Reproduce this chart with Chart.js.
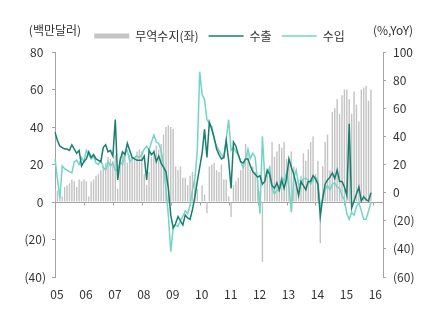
<!DOCTYPE html>
<html>
<head>
<meta charset="utf-8">
<script src="https://cdn.jsdelivr.net/npm/chart.js@4/dist/chart.umd.min.js"></script>
<style>
  body { margin: 0; background: #fff; }
  #wrap { width: 439px; height: 325px; position: relative; }
</style>
</head>
<body>
<div id="wrap"><canvas id="trade-chart"></canvas></div>
<script>
// monthly categories 2005-01 .. 2016-05 (axis runs a little past the data)
const months = [];
for (let yr = 2005; yr <= 2016; yr++) {
  for (let m = 1; m <= 12; m++) {
    if (months.length < 137) months.push(`${yr}-${String(m).padStart(2, "0")}`);
  }
}
const yearLabels = ["05", "06", "07", "08", "09", "10", "11", "12", "13", "14", "15", "16"];

// 무역수지 (left axis, 백만달러)
const balance = [
  7, 6, 5, 3, 8, 9, 10, 12, 11, 8, 12, 11,
  12, 11, 3, 11, 12, 14, 15, 17, 19, 21, 24, 23,
  22, 25, 7, 24, 26, 27, 21, 25, 24, 24, 27, 28,
  27, 15, 9, 16, 24, 28, 30, 28, 31, 36, 40, 41,
  40, 39, 19, 17, 19, 13, 13, 9, 14, 16, 11, 7,
  0, 9, 4, -6, 19, 20, 21, 17, 16, 20, 12, 12,
  3, -8, 9, 11, 13, 17, 19, 31, 26, 17, 19, 16,
  12, 6, -32, 12, 16, 19, 32, 24, 27, 31, 29, 32,
  23, 20, 27, 19, 11, 12, 14, 26, 22, 28, 32, 35,
  15, 22, -22, 19, 32, 36, 17, 48, 50, 55, 47, 57,
  60, 60, 55, 47, 59, 52, 43, 60, 61, 62, 54, 60,
];

// 수출 (right axis, % YoY)
const exportsYoY = [
  43, 37, 33, 32, 31, 31, 30, 34, 31, 28, 30, 19,
  22, 24, 29, 25, 27, 24, 23, 22, 32, 34, 29, 30,
  26, 52, 9, 23, 29, 27, 35, 30, 25, 24, 23, 23,
  23, 26, 9, 30, 27, 29, 22, 26, 21, 18, 15, 3,
  -16, -25, -22, -17, -20, -23, -16, -18, -19, -12, -3, 8,
  18, 28, 45, 25, 50, 45, 39, 31, 27, 24, 25, 37,
  23, 3, 36, 33, 27, 22, 21, 24, 24, 19, 15, 13,
  11, 12, 6, 8, 16, 13, 5, 3, 7, 2, 9, 3,
  10, 24, 18, 13, 6, -2, 8, 5, 2, 8, 8, 12,
  10, 6, -17, -4, 6, 9, 11, 14, 10, 16, 8, 8,
  4, -2, 49, -11, -6, -1, 4, -6, -3, -5, -6, 0,
];

// 수입 (right axis, % YoY)
const importsYoY = [
  24, 10, -4, 19, 17, 16, 15, 14, 22, 23, 20, 25,
  22, 30, 27, 24, 26, 21, 20, 23, 18, 16, 22, 19,
  21, 16, 16, 22, 20, 28, 30, 22, 24, 25, 26, 25,
  27, 31, 33, 30, 36, 41, 36, 35, 30, 20, 2, -16,
  -42, -25, -23, -24, -20, -17, -13, -15, -9, 2, 10, 30,
  86, 70, 66, 52, 49, 47, 38, 33, 30, 27, 25, 38,
  52, 30, 32, 29, 27, 22, 18, 24, 31, 24, 28, 25,
  8, -15, 40, 10, 14, 18, 3, -1, 2, 1, 11, 8,
  14, 4, -14, 11, 16, 6, 6, 10, 10, 9, 6, 9,
  11, 8, -10, -4, 2, 5, 2, 6, 7, 4, 3, -2,
  -5, -15, -19, -14, -16, -10, -7, -13, -19, -19, -13, -7,
];

const FONT = "'Noto Sans CJK KR', 'Noto Sans', sans-serif";
const TEXT = "#333333";
const AXIS = "#a3a3a3";

Chart.defaults.font.family = FONT;
Chart.defaults.font.size = 12;
Chart.defaults.color = TEXT;

const paren = (v) => (v < 0 ? `(${-v})` : `${v} `);

// zero line of the left axis with year ticks
const zeroAxis = {
  id: "zeroAxis",
  beforeDatasetsDraw(chart) {
    const { ctx, chartArea, scales } = chart;
    const y0 = Math.round(scales.y.getPixelForValue(0)) + 0.5;
    ctx.save();
    ctx.strokeStyle = AXIS;
    ctx.lineWidth = 1;
    ctx.beginPath();
    ctx.moveTo(chartArea.left, y0);
    ctx.lineTo(chartArea.right, y0);
    months.forEach((m, i) => {
      if (i > 0 && i % 12 === 0) {
        const px = Math.round(scales.x.getPixelForValue(i)) + 0.5;
        ctx.moveTo(px, y0);
        ctx.lineTo(px, y0 + 3);
      }
    });
    ctx.stroke();
    ctx.restore();
  },
};

// unit captions above both axes
const unitLabels = {
  id: "unitLabels",
  afterDraw(chart) {
    const { ctx, chartArea, scales } = chart;
    const ty = chartArea.top - 22;
    ctx.save();
    ctx.font = `12px ${FONT}`;
    ctx.fillStyle = TEXT;
    ctx.textBaseline = "middle";
    ctx.textAlign = "center";
    ctx.fillText("(백만달러)", scales.y.right, ty);
    ctx.textAlign = "left";
    ctx.fillText("(%,YoY)", scales.y2.left - 10, ty);
    ctx.restore();
  },
};

new Chart(document.getElementById("trade-chart"), {
  data: {
    labels: months,
    datasets: [
      {
        type: "bar",
        label: "무역수지(좌)",
        data: balance,
        yAxisID: "y",
        backgroundColor: "#c4c4c4",
        borderWidth: 0,
        barPercentage: 0.6,
        categoryPercentage: 1,
        pointStyle: "rect",
        order: 3,
      },
      {
        type: "line",
        label: "수출",
        data: exportsYoY,
        yAxisID: "y2",
        borderColor: "#1a7d6e",
        backgroundColor: "#1a7d6e",
        borderWidth: 1.5,
        pointRadius: 0,
        tension: 0,
        pointStyle: "line",
        order: 1,
      },
      {
        type: "line",
        label: "수입",
        data: importsYoY,
        yAxisID: "y2",
        borderColor: "#72d4c5",
        backgroundColor: "#72d4c5",
        borderWidth: 1.5,
        pointRadius: 0,
        tension: 0,
        pointStyle: "line",
        order: 2,
      },
    ],
  },
  options: {
    responsive: true,
    maintainAspectRatio: false,
    animation: false,
    layout: { padding: { top: 20, left: 0, right: 0, bottom: 0 } },
    plugins: {
      legend: {
        display: true,
        position: "top",
        labels: {
          usePointStyle: true,
          pointStyleWidth: 35,
          boxHeight: 5,
          padding: 10,
          color: TEXT,
          font: { size: 12 },
          sort: (a, b) => a.datasetIndex - b.datasetIndex,
        },
      },
      tooltip: { enabled: false },
    },
    scales: {
      x: {
        type: "category",
        offset: false,
        grid: { display: false, drawTicks: false },
        border: { display: false },
        ticks: {
          autoSkip: false,
          maxRotation: 0,
          padding: 10,
          labelOffset: 2,
          color: TEXT,
          callback: (v, i) => (i % 12 === 0 ? yearLabels[i / 12] : null),
        },
        afterFit: (s) => { s.height = 48; },
      },
      y: {
        position: "left",
        min: -40,
        max: 80,
        ticks: { stepSize: 20, padding: 6, color: TEXT, callback: paren },
        grid: { drawOnChartArea: false, tickLength: 3, color: AXIS },
        border: { color: AXIS },
        afterFit: (s) => { s.width = 55; },
      },
      y2: {
        position: "right",
        min: -60,
        max: 100,
        ticks: { stepSize: 20, padding: 7, color: TEXT, callback: (v) => (v < 0 ? `(${-v})` : `${v}`) },
        grid: { drawOnChartArea: false, tickLength: 3, color: AXIS },
        border: { color: AXIS },
        afterFit: (s) => { s.width = 56; },
      },
    },
  },
  plugins: [zeroAxis, unitLabels],
});
</script>
</body>
</html>
